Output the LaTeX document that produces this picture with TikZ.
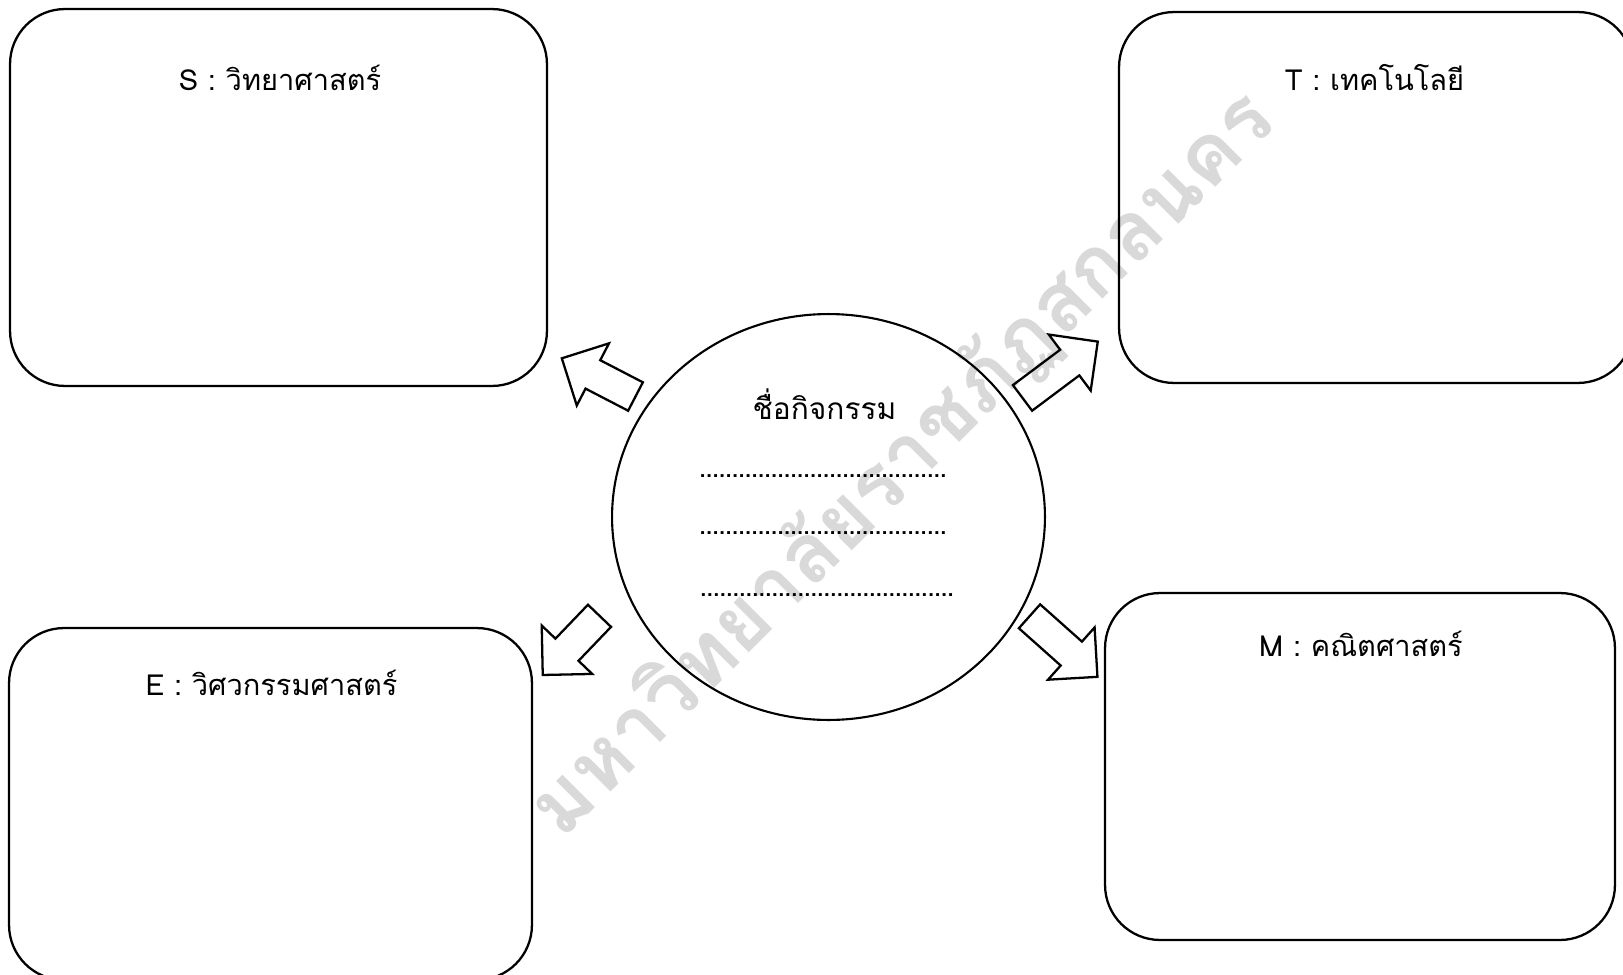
\documentclass[tikz,border=0pt]{standalone}
\usepackage{fontspec}
\newfontfamily\thaifont[Script=Thai]{Loma}
\usetikzlibrary{shapes.geometric}

\newcommand\dotrow[1]{\hbox to #1{\cleaders\hbox to 3.7pt{\hss.\hss}\hfill}}

\tikzset{
  stembox/.style={draw, line width=1.3pt, rounded corners=1.1cm},
  hub/.style={draw, ellipse, line width=1.2pt, minimum width=8.66cm, minimum height=8.12cm, inner sep=0pt},
  boxlabel/.style={font=\thaifont\fontsize{16.5}{18}\selectfont, inner sep=0pt},
  wmtext/.style={font=\thaifont\bfseries\fontsize{47}{50}\selectfont, text=black!15, inner sep=0pt},
  pics/fatarrow/.style={code={
    \draw[line width=1.3pt, line join=miter] (0,-16) -- (#1-35,-16) -- (#1-35,-35) -- (#1,0)
      -- (#1-35,35) -- (#1-35,16) -- (0,16) -- cycle;}}
}

\begin{document}
\begin{tikzpicture}[x=0.02cm, y=-0.02cm]
\useasboundingbox (0,0) rectangle (1623,974);

% watermark
\node[wmtext, rotate=45] (wm) at (903,464) {มหาวิทยาลัยราชภัฏสกลนคร};

\node[stembox, minimum width=10.74cm, minimum height=7.54cm] (sBox) at (278.5,197.5) {};
\node[stembox, minimum width=10.28cm, minimum height=7.42cm] (tBox) at (1376,197.5) {};
\node[stembox, minimum width=10.46cm, minimum height=7.04cm] (eBox) at (270.5,804) {};
\node[stembox, minimum width=10.2cm, minimum height=6.94cm] (mBox) at (1360,766.5) {};

\node[boxlabel, anchor=base] (sLab) at (280,90) {S : วิทยาศาสตร์};
\node[boxlabel, anchor=base] (tLab) at (1374.5,90) {T : เทคโนโลยี};
\node[boxlabel, anchor=base] (eLab) at (271.5,695) {E : วิศวกรรมศาสตร์};
\node[boxlabel, anchor=base] (mLab) at (1361,656.7) {M : คณิตศาสตร์};

\node[hub] (hub) at (828.5,517) {};
\node[boxlabel, font=\thaifont\fontsize{17}{19}\selectfont, anchor=base] (title) at (824.5,419) {ชื่อกิจกรรม};
\node[boxlabel, anchor=base west] (dots1) at (698,477) {\dotrow{4.98cm}};
\node[boxlabel, anchor=base west] (dots2) at (698,534) {\dotrow{4.98cm}};
\node[boxlabel, anchor=base west] (dots3) at (698,596) {\dotrow{5.14cm}};

% arrows out of the hub
\pic[rotate=152.6] at (635.5,396.5) {fatarrow=83};
\pic[rotate=36.8] at (1022.5,397.9) {fatarrow=94};
\pic[rotate=-133.8] at (599.5,615.8) {fatarrow=82};
\pic[rotate=-41.7] at (1029.5,616.3) {fatarrow=91};

\end{tikzpicture}
\end{document}
